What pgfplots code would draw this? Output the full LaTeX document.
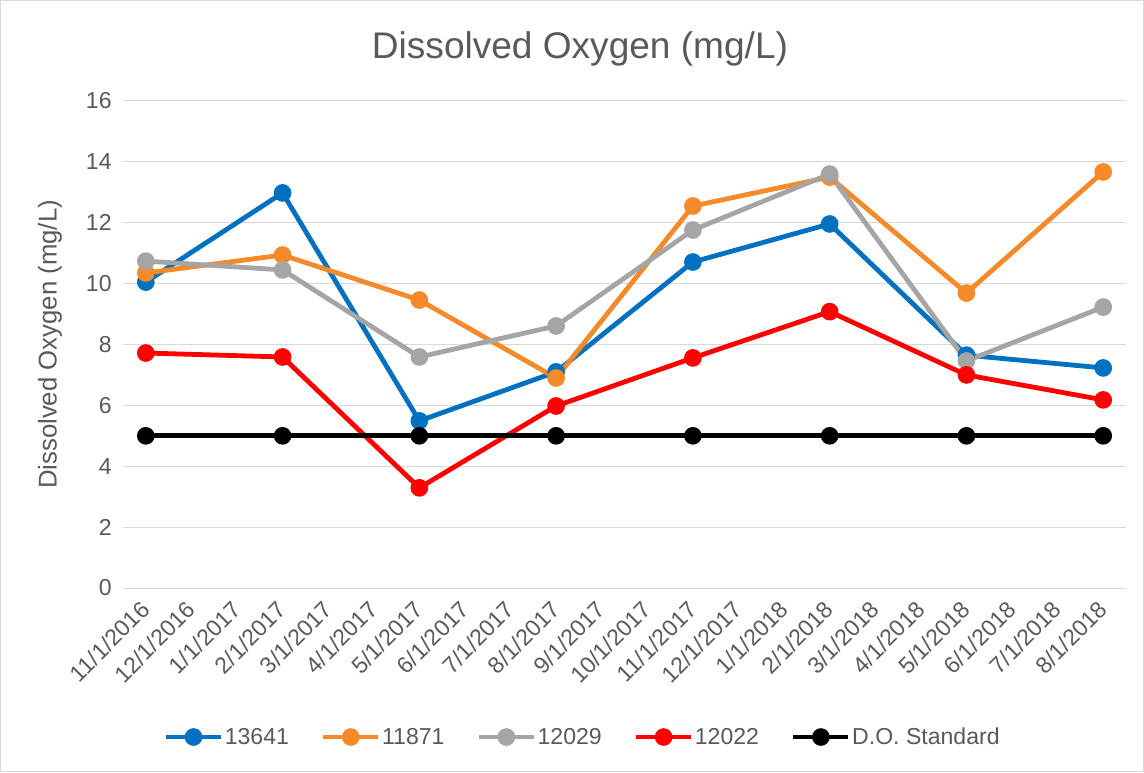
\documentclass[border=0pt]{standalone}
\usepackage{pgfplots}
\pgfplotsset{compat=1.18}
\usepackage{fontspec}
\setmainfont{Liberation Sans}
\definecolor{cblue}{HTML}{0070C0}
\definecolor{corange}{HTML}{F58A2A}
\definecolor{cgray}{HTML}{A5A5A5}
\definecolor{cred}{HTML}{FF0000}
\definecolor{txt}{HTML}{595959}
\definecolor{gridc}{HTML}{D9D9D9}
\begin{document}
\begin{tikzpicture}
\draw[gridc, line width=0.75pt] (0.375pt,0.375pt) rectangle (857.625pt,578.625pt);
\node[txt, font=\fontsize{27.8}{33}\selectfont] at (435pt,542pt) {Dissolved Oxygen (mg/L)};
\begin{axis}[at={(92.25pt,138pt)}, anchor=south west, scale only axis,
  width=752.25pt, height=365.25pt,
  xmin=-0.5, xmax=21.5, ymin=0, ymax=16, ytick={0,2,...,16}, xtick={0,...,21},
  xticklabels={11/1/2016,12/1/2016,1/1/2017,2/1/2017,3/1/2017,4/1/2017,5/1/2017,6/1/2017,7/1/2017,8/1/2017,9/1/2017,10/1/2017,11/1/2017,12/1/2017,1/1/2018,2/1/2018,3/1/2018,4/1/2018,5/1/2018,6/1/2018,7/1/2018,8/1/2018},
  xticklabel style={rotate=45, anchor=east, xshift=3pt},
  xticklabel shift=13pt,
  yticklabel style={xshift=-5pt},
  axis line style={draw=none},
  ymajorgrids, grid style={gridc, line width=0.75pt},
  major tick length=0pt,
  tick label style={txt, font=\fontsize{17.3}{20}\selectfont},
  /pgf/number format/assume math mode=true,
  ylabel={Dissolved Oxygen (mg/L)},
  ylabel style={txt, font=\fontsize{19.3}{22}\selectfont, at={(axis description cs:-0.0728,0.5)}, anchor=center},
  every axis plot/.append style={line width=3.6pt, mark=*, mark size=4.8pt},
  legend columns=5,
  legend style={draw=none, fill=none, at={(axis description cs:0.4586,-0.306)}, anchor=center,
    font=\fontsize{17.3}{20}\selectfont, text=txt,
    /tikz/every even column/.append style={column sep=22pt},
    /tikz/every odd column/.append style={column sep=-1pt},
    inner sep=0pt},
  legend image code/.code={\draw[#1, mark repeat=2, mark phase=2] plot coordinates {(0pt,0pt) (20.6pt,0pt) (41.25pt,0pt)};},
]
\addplot[cblue, mark options={fill=cblue, draw=cblue}] coordinates {(0,10.05) (3,12.98) (6,5.49) (9,7.1) (12,10.71) (15,11.96) (18,7.65) (21,7.23)};
\addlegendentry{13641}
\addplot[corange, mark options={fill=corange, draw=corange}] coordinates {(0,10.35) (3,10.94) (6,9.46) (9,6.9) (12,12.55) (15,13.5) (18,9.69) (21,13.67)};
\addlegendentry{11871}
\addplot[cgray, mark options={fill=cgray, draw=cgray}] coordinates {(0,10.74) (3,10.45) (6,7.59) (9,8.61) (12,11.76) (15,13.6) (18,7.46) (21,9.23)};
\addlegendentry{12029}
\addplot[cred, mark options={fill=cred, draw=cred}] coordinates {(0,7.72) (3,7.59) (6,3.29) (9,5.98) (12,7.56) (15,9.08) (18,7.0) (21,6.18)};
\addlegendentry{12022}
\addplot[black, mark options={fill=black, draw=black}] coordinates {(0,5) (3,5) (6,5) (9,5) (12,5) (15,5) (18,5) (21,5)};
\addlegendentry{D.O. Standard}
\end{axis}
\end{tikzpicture}
\end{document}
